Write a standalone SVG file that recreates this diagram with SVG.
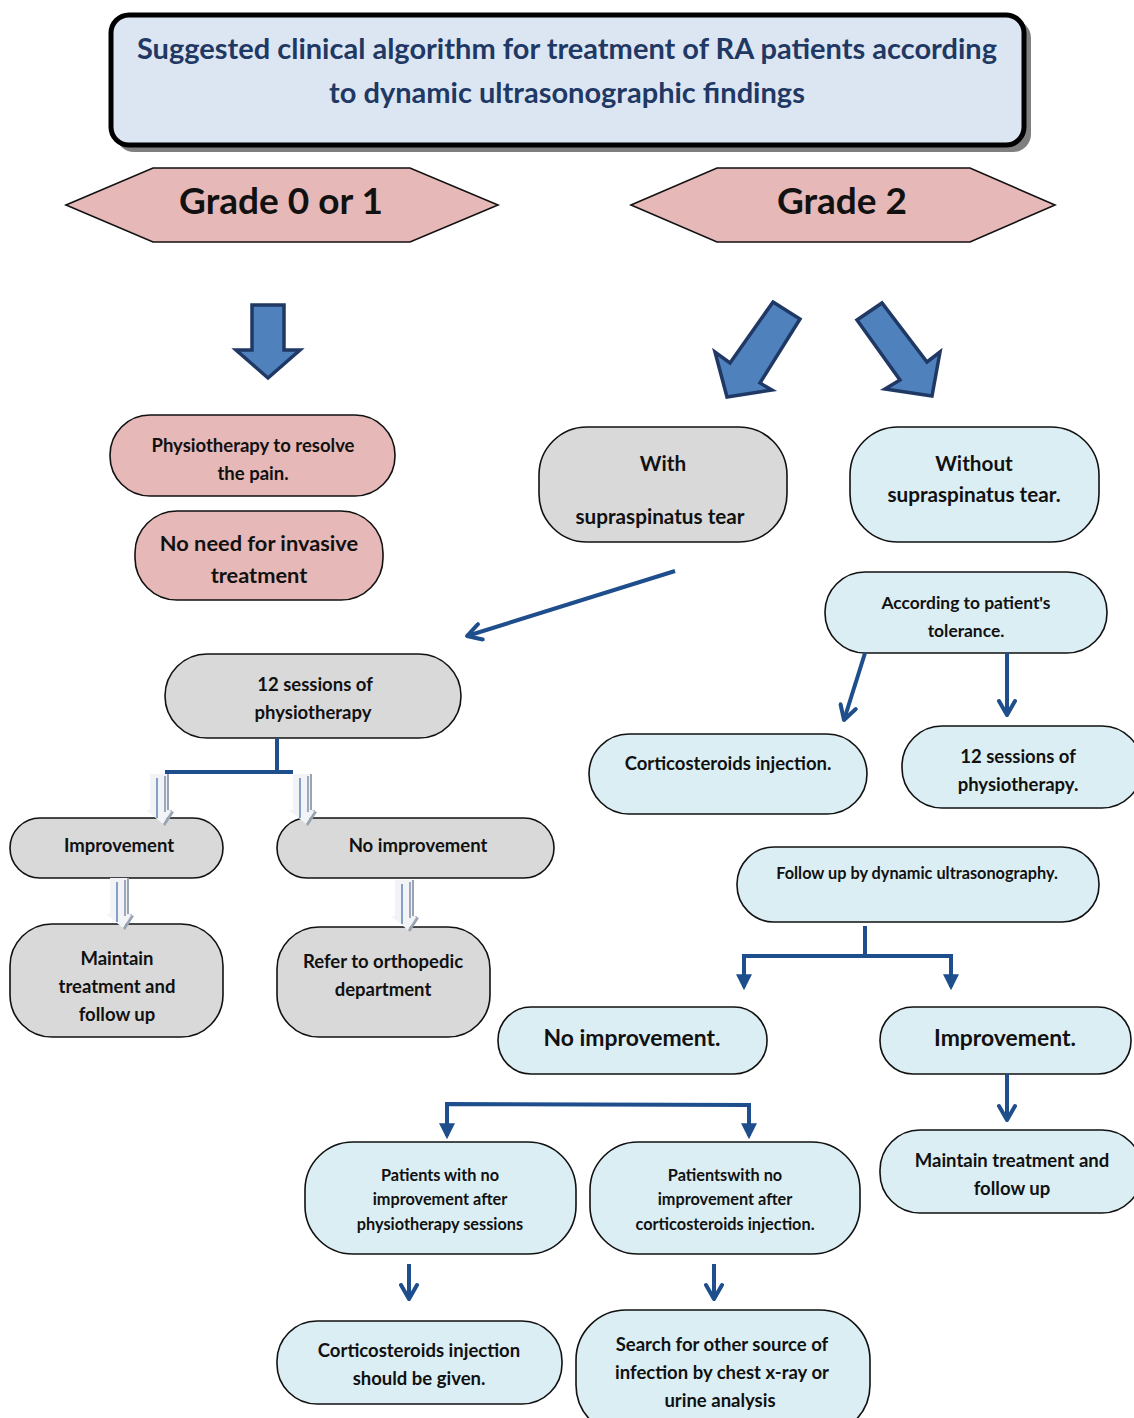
<svg xmlns="http://www.w3.org/2000/svg" width="1134" height="1418" viewBox="0 0 1134 1418">
<defs>
<style>
text{font-family:Lato,"Liberation Sans",sans-serif;font-weight:bold;fill:#111;text-anchor:middle}
.pink{fill:#e6b8b7;stroke:#111;stroke-width:1.6}
.gray{fill:#d9d9d9;stroke:#111;stroke-width:1.6}
.blue{fill:#dbeef4;stroke:#111;stroke-width:1.6}
.ln{stroke:#1f4e8c;stroke-width:4;fill:none}
.blk{fill:#4f81bd;stroke:#1f3864;stroke-width:3.5;stroke-linejoin:miter}
.t15{font-size:16.3px}.t16{font-size:17.4px}.t17{font-size:18.5px}.t19{font-size:20.7px}.t20{font-size:21.8px}.t21{font-size:22.9px}
</style>
<marker id="ah" viewBox="0 0 10 10" refX="8" refY="5" markerWidth="4" markerHeight="4" orient="auto-start-reverse" markerUnits="strokeWidth">
<path d="M0,0 L10,5 L0,10 Z" fill="#1f4e8c"/>
</marker>
<marker id="ch" viewBox="0 0 10 10" refX="9" refY="5" markerWidth="5" markerHeight="5" orient="auto" markerUnits="strokeWidth">
<path d="M2,1 L9,5 L2,9" fill="none" stroke="#1f4e8c" stroke-width="2" stroke-linecap="round" stroke-linejoin="round"/>
</marker>
<g id="hollow">
<polygon points="-2,0 8,0 8,36 13,36 4,50 -13,36 -9,36 -9,0" fill="#f1f3f7"/>
<polygon points="8,0 10,0 10,36 15,38 6,52 4,50 13,36 8,36" fill="#9aa3b2"/>
<line x1="-2" y1="4" x2="-2" y2="44" stroke="#3e6aa8" stroke-width="1.2"/>
<line x1="6" y1="2" x2="6" y2="38" stroke="#7f8fa8" stroke-width="1.5"/>
</g>
</defs>

<g id="title">
<rect x="116" y="20" width="915" height="132" rx="18" fill="#7f7f7f"/>
<rect x="111" y="15" width="913" height="130" rx="18" fill="#dce6f2" stroke="#000" stroke-width="5"/>
<text x="567" y="59" style="font-size:29px;fill:#1f3864">Suggested clinical algorithm for treatment of RA patients according</text>
<text x="567" y="103" style="font-size:29px;fill:#1f3864">to dynamic ultrasonographic findings</text>
</g>

<g id="grade01">
<polygon class="pink" points="66,205 153,168 410,168 498,205 410,242 153,242"/>
<text x="281" y="214" style="font-size:37px">Grade 0 or 1</text>
</g>
<g id="grade2">
<polygon class="pink" points="631,205 717,168 970,168 1055,205 970,242 717,242"/>
<text x="842" y="214" style="font-size:37px">Grade 2</text>
</g>

<g id="blockarrows">
<polygon class="blk" points="252,305 284,305 284,350 300,350 268,378 236,350 252,350"/>
<polygon class="blk" points="773,302 800,319 760,383 772,390 727,397 715,352 730,363"/>
<polygon class="blk" points="857,320 882,303 927,362 940,352 932,396 885,389 900,380"/>
</g>

<g id="n-physio-pain">
<rect class="pink" x="110" y="415" width="285" height="81" rx="40"/>
<text class="t17" x="253" y="452">Physiotherapy to resolve</text>
<text class="t17" x="253" y="480">the pain.</text>
</g>
<g id="n-noneed">
<rect class="pink" x="135" y="511" width="248" height="89" rx="42"/>
<text class="t20" x="259" y="551">No need for invasive</text>
<text class="t20" x="259" y="583">treatment</text>
</g>
<g id="n-with">
<rect class="gray" x="539" y="427" width="248" height="115" rx="48"/>
<text class="t19" x="663" y="471">With</text>
<text class="t19" x="660" y="524">supraspinatus tear</text>
</g>
<g id="n-without">
<rect class="blue" x="850" y="427" width="249" height="115" rx="48"/>
<text class="t19" x="974" y="471">Without</text>
<text class="t19" x="974" y="502">supraspinatus tear.</text>
</g>
<g id="n-12sessions">
<rect class="gray" x="165" y="654" width="296" height="84" rx="42"/>
<text class="t17" x="315" y="691">12 sessions of</text>
<text class="t17" x="313" y="719">physiotherapy</text>
</g>
<g id="n-improve-l">
<rect class="gray" x="10" y="818" width="213" height="60" rx="30"/>
<text class="t17" x="119" y="852">Improvement</text>
</g>
<g id="n-noimprove-l">
<rect class="gray" x="277" y="818" width="277" height="60" rx="30"/>
<text class="t17" x="418" y="852">No improvement</text>
</g>
<g id="n-maintain-l">
<rect class="gray" x="10" y="924" width="213" height="113" rx="42"/>
<text class="t17" x="117" y="965">Maintain</text>
<text class="t17" x="117" y="993">treatment and</text>
<text class="t17" x="117" y="1021">follow up</text>
</g>
<g id="n-refer">
<rect class="gray" x="277" y="927" width="213" height="110" rx="42"/>
<text class="t17" x="383" y="968">Refer to orthopedic</text>
<text class="t17" x="383" y="996">department</text>
</g>

<g id="n-tolerance">
<rect class="blue" x="825" y="572" width="282" height="81" rx="40"/>
<text class="t16" x="966" y="609">According to patient's</text>
<text class="t16" x="966" y="637">tolerance.</text>
</g>
<g id="n-cortico">
<rect class="blue" x="589" y="734" width="278" height="80" rx="40"/>
<text class="t17" x="728" y="770">Corticosteroids injection.</text>
</g>
<g id="n-12sessions-r">
<rect class="blue" x="902" y="726" width="240" height="82" rx="40"/>
<text class="t17" x="1018" y="763">12 sessions of</text>
<text class="t17" x="1018" y="791">physiotherapy.</text>
</g>
<g id="n-followup">
<rect class="blue" x="737" y="847" width="362" height="75" rx="37"/>
<text class="t15" x="917" y="879">Follow up by dynamic ultrasonography.</text>
</g>
<g id="n-noimprove-r">
<rect class="blue" x="498" y="1007" width="269" height="67" rx="33"/>
<text class="t21" x="632" y="1046">No improvement.</text>
</g>
<g id="n-improve-r">
<rect class="blue" x="880" y="1007" width="251" height="67" rx="33"/>
<text class="t21" x="1005" y="1046">Improvement.</text>
</g>
<g id="n-maintain-r">
<rect class="blue" x="880" y="1130" width="262" height="83" rx="40"/>
<text class="t17" x="1012" y="1167">Maintain treatment and</text>
<text class="t17" x="1012" y="1195">follow up</text>
</g>
<g id="n-pat-physio">
<rect class="blue" x="305" y="1142" width="271" height="112" rx="48"/>
<text class="t15" x="440" y="1181">Patients with no</text>
<text class="t15" x="440" y="1205">improvement after</text>
<text class="t15" x="440" y="1230">physiotherapy sessions</text>
</g>
<g id="n-pat-cortico">
<rect class="blue" x="590" y="1142" width="270" height="112" rx="48"/>
<text class="t15" x="725" y="1181">Patientswith no</text>
<text class="t15" x="725" y="1205">improvement after</text>
<text class="t15" x="725" y="1230">corticosteroids injection.</text>
</g>
<g id="n-cortico-given">
<rect class="blue" x="277" y="1321" width="285" height="83" rx="40"/>
<text class="t17" x="419" y="1357">Corticosteroids injection</text>
<text class="t17" x="419" y="1385">should be given.</text>
</g>
<g id="n-search">
<rect class="blue" x="576" y="1310" width="294" height="125" rx="50"/>
<text class="t17" x="722" y="1351">Search for other source of</text>
<text class="t17" x="722" y="1379">infection by chest x-ray or</text>
<text class="t17" x="720" y="1407">urine analysis</text>
</g>

<g id="connectors">
<line class="ln" x1="675" y1="571" x2="467" y2="636" marker-end="url(#ch)"/>
<line class="ln" x1="277" y1="738" x2="277" y2="772"/>
<line class="ln" x1="165" y1="772" x2="293" y2="772"/>
<use href="#hollow" x="159" y="774"/>
<use href="#hollow" x="302" y="774"/>
<use href="#hollow" x="119" y="878"/>
<use href="#hollow" x="404" y="880"/>
<line class="ln" x1="865" y1="653" x2="844" y2="720" marker-end="url(#ch)"/>
<line class="ln" x1="1007" y1="653" x2="1007" y2="715" marker-end="url(#ch)"/>
<line class="ln" x1="865" y1="926" x2="865" y2="956"/>
<polyline class="ln" points="744,987 744,956 951,956 951,987" marker-start="url(#ah)" marker-end="url(#ah)" style="stroke-linejoin:miter"/>
<line class="ln" x1="1007" y1="1074" x2="1007" y2="1120" marker-end="url(#ch)"/>
<polyline class="ln" points="447,1136 447,1104 749,1105 749,1136" marker-start="url(#ah)" marker-end="url(#ah)" style="stroke-linejoin:miter"/>
<line class="ln" x1="409" y1="1264" x2="409" y2="1299" marker-end="url(#ch)"/>
<line class="ln" x1="714" y1="1264" x2="714" y2="1299" marker-end="url(#ch)"/>
</g>
</svg>
